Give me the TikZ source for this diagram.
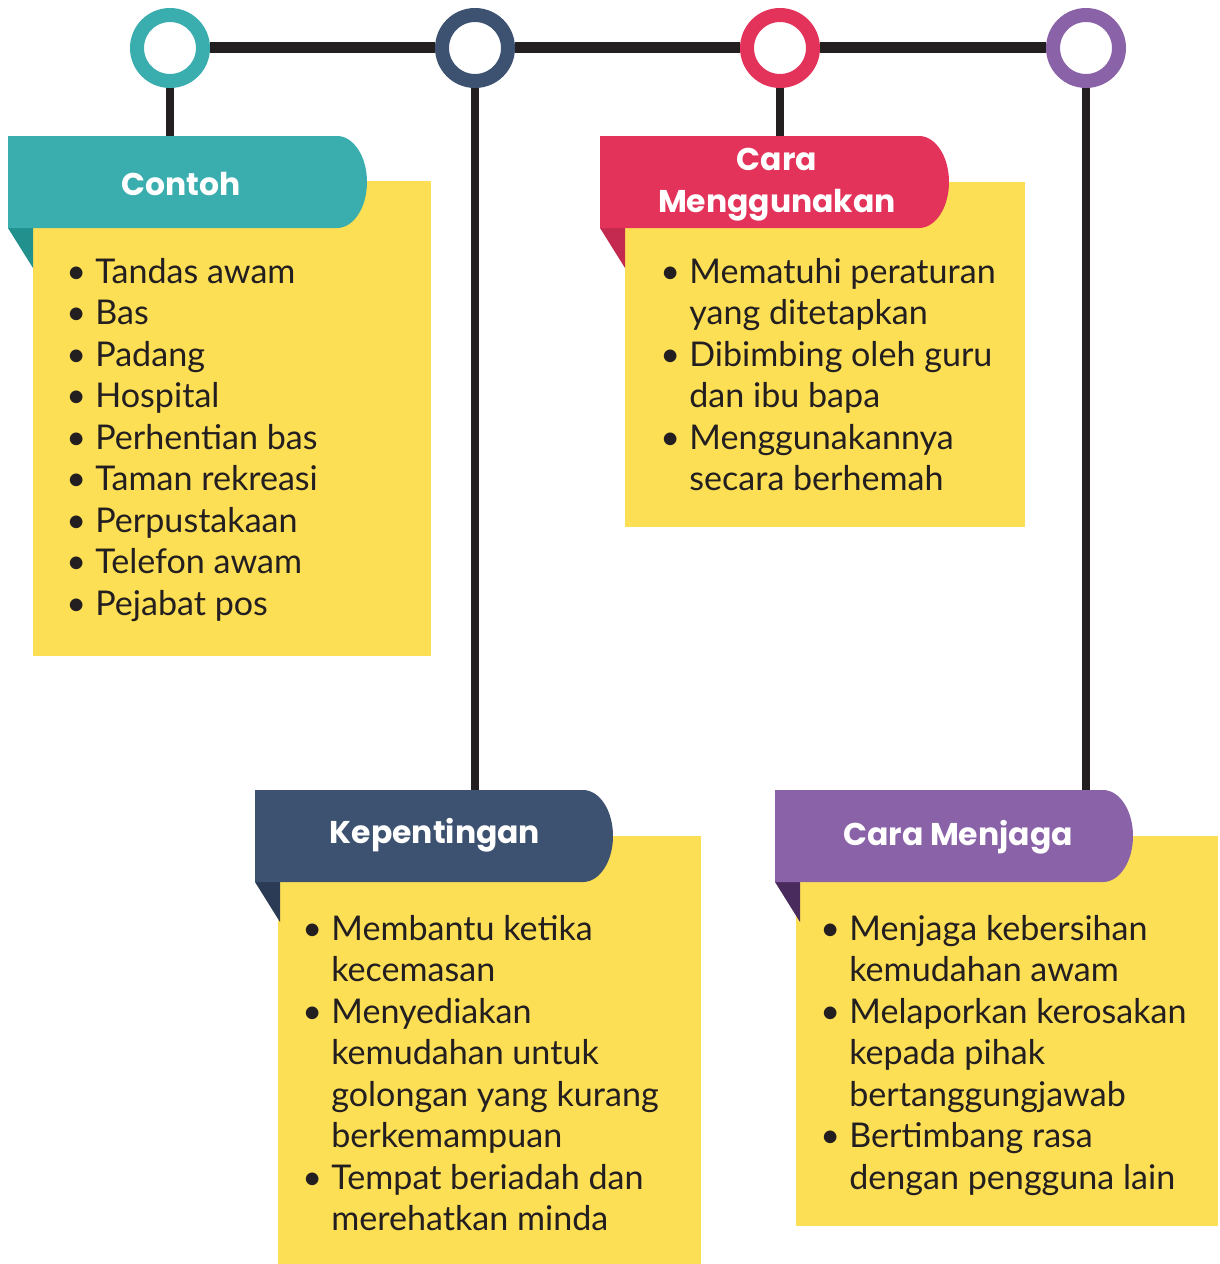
\documentclass[tikz,border=0pt]{standalone}
\usepackage{fontspec}
\setmainfont{Lato}
\newfontfamily\headfont{Poppins}
\definecolor{ink}{HTML}{231F20}
\definecolor{note}{HTML}{FDDF55}
\definecolor{teal}{HTML}{3AADAE}
\definecolor{tealdark}{HTML}{22918D}
\definecolor{navy}{HTML}{3D5170}
\definecolor{navydark}{HTML}{2C3B55}
\definecolor{rose}{HTML}{E3335A}
\definecolor{rosedark}{HTML}{C42A50}
\definecolor{plum}{HTML}{8A62A8}
\definecolor{plumdark}{HTML}{4A2B5E}
% bullet and hanging indent
\newcommand{\bul}{\makebox[0.58cm][l]{\textbullet}}
\newcommand{\ind}{\hspace*{0.58cm}}
% header tab: x0, y0, x1, fill, fold colour
\newcommand{\headtab}[5]{%
  \fill[#5] (#1,#2+92) -- (#1+25,#2+92) -- (#1+25,#2+132) -- cycle;
  \fill[#4] (#1,#2) -- (#3-30,#2) .. controls (#3-13.4,#2) and (#3,#2+20.6) .. (#3,#2+46)
    .. controls (#3,#2+71.4) and (#3-13.4,#2+92) .. (#3-30,#2+92) -- (#1,#2+92) -- cycle;}
\begin{document}
\begin{tikzpicture}[x=0.02cm, y=-0.02cm,
  dot/.style={circle, draw=#1, fill=white, line width=0.28cm, minimum size=1.32cm, inner sep=0pt},
  title/.style={text=white, font=\headfont\bfseries\fontsize{17.9}{24}\selectfont, align=center, inner sep=0pt},
  list/.style={text=ink, font=\fontsize{19.4}{23.6}\selectfont, align=left, anchor=north west, inner sep=0pt},
  rail/.style={draw=ink, line width=0.22cm},
  drop/.style={draw=ink, line width=0.16cm}]
\useasboundingbox (0,0) rectangle (1220,1264);

% yellow notes
\fill[note] (33,181) rectangle (431,656);
\fill[note] (625,182) rectangle (1025,527);
\fill[note] (278,836) rectangle (701,1264);
\fill[note] (796,836) rectangle (1218,1226);

% header tabs
\headtab{8}{136}{367}{teal}{tealdark}
\headtab{600}{136}{949}{rose}{rosedark}
\headtab{255}{790}{613}{navy}{navydark}
\headtab{775}{790}{1133}{plum}{plumdark}

% circles
\node[dot=teal] (c1) at (170,48) {};
\node[dot=navy] (c2) at (475,48) {};
\node[dot=rose] (c3) at (780,48) {};
\node[dot=plum] (c4) at (1086,48) {};

\coordinate (t1) at (170,136);
\coordinate (t2) at (475,790);
\coordinate (t3) at (780,136);
\coordinate (t4) at (1086,790);

\draw[rail] (c1) -- (c2);
\draw[rail] (c2) -- (c3);
\draw[rail] (c3) -- (c4);
\draw[drop] (c1) -- (t1);
\draw[drop] (c2) -- (t2);
\draw[drop] (c3) -- (t3);
\draw[drop] (c4) -- (t4);

% titles
\node[title] (contoh) at (181,184) {Contoh};
\node[title] (cara) at (777,185) {Cara\\Menggunakan};
\node[title] (penting) at (435,835) {Kepentingan};
\node[title] (jaga) at (958,837) {Cara Menjaga};

% lists
\node[list] (lcontoh) at (66,258) {\bul Tandas awam\\\bul Bas\\\bul Padang\\\bul Hospital\\\bul Perhentian bas\\\bul Taman rekreasi\\\bul Perpustakaan\\\bul Telefon awam\\\bul Pejabat pos};
\node[list] (lcara) at (660,258) {\bul Mematuhi peraturan\\\ind yang ditetapkan\\\bul Dibimbing oleh guru\\\ind dan ibu bapa\\\bul Menggunakannya\\\ind secara berhemah};
\node[list] (lpenting) at (302,915) {\bul Membantu ketika\\\ind kecemasan\\\bul Menyediakan\\\ind kemudahan untuk\\\ind golongan yang kurang\\\ind berkemampuan\\\bul Tempat beriadah dan\\\ind merehatkan minda};
\node[list] (ljaga) at (820,915) {\bul Menjaga kebersihan\\\ind kemudahan awam\\\bul Melaporkan kerosakan\\\ind kepada pihak\\\ind bertanggungjawab\\\bul Bertimbang rasa\\\ind dengan pengguna lain};
\end{tikzpicture}
\end{document}
